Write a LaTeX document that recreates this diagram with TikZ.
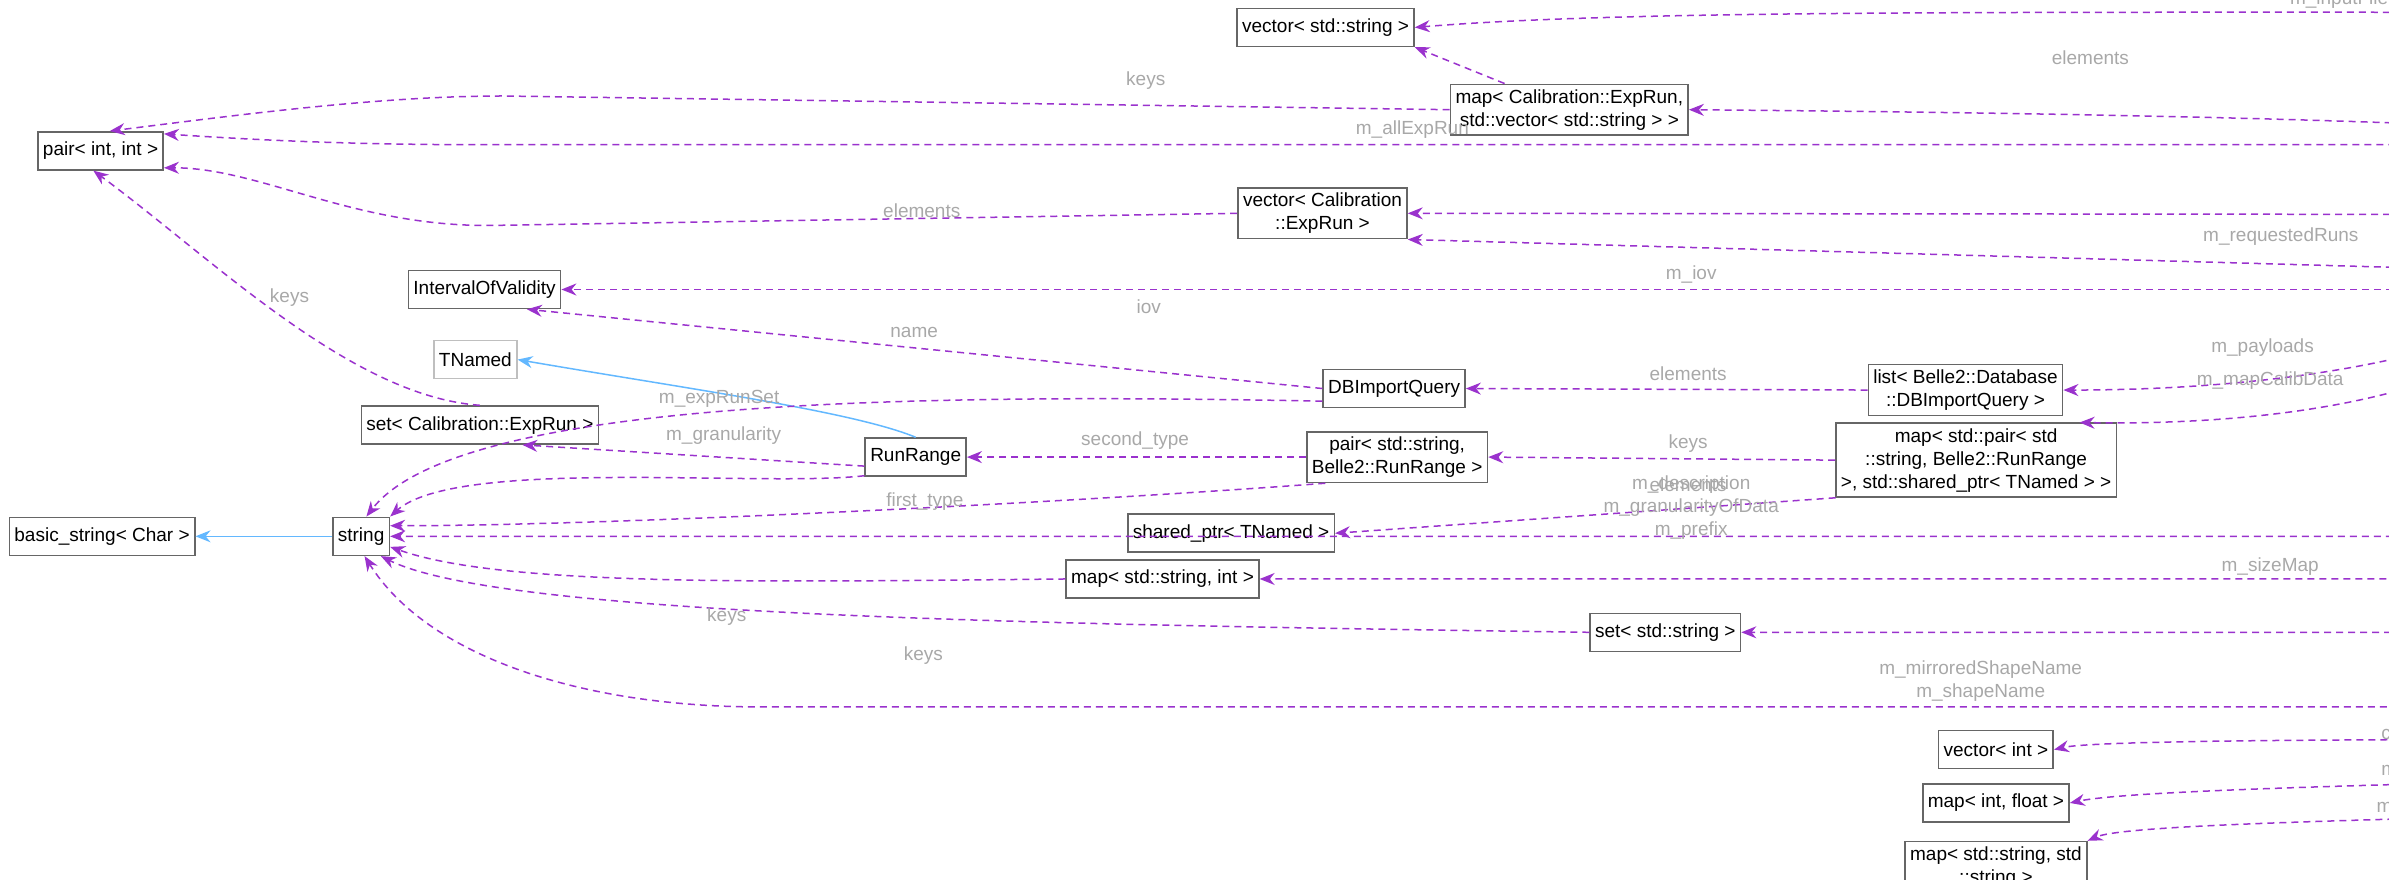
\documentclass[tikz,border=0pt]{standalone}
\usepackage{fontspec}
\setmainfont{Liberation Sans}
\usetikzlibrary{arrows.meta}
\definecolor{relcol}{HTML}{9A32CD}
\definecolor{inhcol}{HTML}{63B8FF}
\definecolor{lblcol}{HTML}{A8A8A8}

\begin{document}
\begin{tikzpicture}[x=1.5236pt,y=-1.5236pt,font=\fontsize{19}{23}\selectfont,
    box/.style={draw=black!60,line width=1.6pt,fill=white,inner sep=5pt,minimum height=38pt,align=center},
    rel/.style={draw=relcol,dashed,dash pattern=on 7pt off 5pt,line width=1.5pt,-{Stealth[length=15pt,width=12pt]}},
    inh/.style={draw=inhcol,line width=1.5pt,-{Stealth[length=15pt,width=12pt,open,fill=inhcol]}},
    lbl/.style={text=lblcol,inner sep=1pt,align=center}]
    % Frame of the picture:
    \useasboundingbox (0,0) rectangle (1568,577);

    % Classes:
    \node [box] (vecstr)  at (870,18)   {vector< std::string >};
    \node [box] (mapexp)  at (1030,72)  {map< Calibration::ExpRun,\\std::vector< std::string > >};
    \node [box] (pairii)  at (66,99)    {pair< int, int >};
    \node [box] (vecexp)  at (868,140)  {vector< Calibration\\::ExpRun >};
    \node [box] (calalg)  at (1920,141) {CalibrationAlgorithm};
    \node [box] (iov)     at (318,190)  {IntervalOfValidity};
    \node [box] (exec)    at (1670,190) {ExecutionData};
    \node [box,draw=black!25] (tnamed) at (312,236) {TNamed};
    \node [box] (setexp)  at (315,279)  {set< Calibration::ExpRun >};
    \node [box] (dbiq)    at (915,255)  {DBImportQuery};
    \node [box] (listdb)  at (1290,256) {list< Belle2::Database\\::DBImportQuery >};
    \node [box] (runrange) at (601,300) {RunRange};
    \node [box] (pairsr)  at (917,300)  {pair< std::string,\\Belle2::RunRange >};
    \node [box] (mappair) at (1297,302) {map< std::pair< std\\::string, Belle2::RunRange\\>, std::shared\_ptr< TNamed > >};
    \node [box] (shared)  at (808,350)  {shared\_ptr< TNamed >};
    \node [box] (basic)   at (67,352)   {basic\_string< Char >};
    \node [box] (string)  at (237,352)  {string};
    \node [box] (mapsi)   at (763,380)  {map< std::string, int >};
    \node [box] (setstr)  at (1093,415) {set< std::string >};
    \node [box,fill=black!40] (pxd) at (2285,464) {PXDClusterPositionCalibration\\Algorithm};
    \node [box] (vecint)  at (1310,492) {vector< int >};
    \node [box] (mapif)   at (1310,527) {map< int, float >};
    \node [box] (mapss)   at (1310,569) {map< std::string, std\\::string >};

    % Inheritance:
    \draw [inh] (pxd.110) -- (calalg.-60);
    \draw [inh] (runrange.north) .. controls (560,270) and (450,255) .. (tnamed.east);
    \draw [inh] (string) -- (basic);

    % Members:
    \draw [rel] (calalg.north) .. controls (1915,80) and (1760,8) .. (1550,8)
                .. controls (1250,8) and (1050,8) .. (vecstr.east);
    \draw [rel] (mapexp) -- (vecstr.south east);
    \draw [rel] (mapexp.west) -- (330,63) .. controls (250,63) and (160,75) .. (pairii.65);
    \draw [rel] (calalg.130) .. controls (1880,100) and (1820,78) .. (mapexp.east);
    \draw [rel] (calalg.160) .. controls (1820,115) and (1760,95) .. (1650,95) -- (320,95)
                .. controls (230,95) and (170,92) .. (pairii.15);
    \draw [rel] (vecexp.west) -- (320,148) .. controls (230,148) and (170,110) .. (pairii.-15);
    \draw [rel] (calalg.west) -- (vecexp.east);
    \draw [rel] (exec.north west) -- (vecexp.south east);
    \draw [rel] (calalg.-120) .. controls (1860,170) and (1760,170) .. (exec.north east);
    \draw [rel] (exec.west) -- (iov.east);
    \draw [rel] (dbiq.west) -- (iov.-25);
    \draw [rel] (dbiq.-170) .. controls (600,258) and (300,262) .. (string.75);
    \draw [rel] (listdb.west) -- (dbiq.east);
    \draw [rel] (exec.-120) .. controls (1620,230) and (1510,256) .. (listdb.east);
    \draw [rel] (exec.-100) .. controls (1640,250) and (1520,280) .. (mappair.20);
    \draw [rel] (setexp.north) .. controls (230,260) and (140,170) .. (pairii.-110);
    \draw [rel] (runrange.-170) -- (setexp.-25);
    \draw [rel] (runrange.-160) .. controls (500,320) and (300,300) .. (string.north east);
    \draw [rel] (pairsr.west) -- (runrange.east);
    \draw [rel] (pairsr.-160) .. controls (700,330) and (400,345) .. (string.20);
    \draw [rel] (mappair.west) -- (pairsr.east);
    \draw [rel] (mappair.-165) -- (shared.east);
    \draw [rel] (calalg.-100) .. controls (1890,260) and (1720,352) .. (1610,352) -- (string.east);
    \draw [rel] (mapsi.west) .. controls (500,382) and (330,385) .. (string.-20);
    \draw [rel] (setstr.west) .. controls (700,410) and (330,405) .. (string.-45);
    \draw [rel] (pxd.108) .. controls (2200,400) and (2120,380) .. (1980,380) -- (mapsi.east);
    \draw [rel] (pxd.118) .. controls (2200,430) and (2100,415) .. (1990,415) -- (setstr.east);
    \draw [rel] (pxd.west) -- (500,464) .. controls (380,464) and (280,430) .. (string.-80);
    \draw [rel] (pxd.-135) .. controls (2200,490) and (1400,480) .. (vecint.east);
    \draw [rel] (pxd.-118) .. controls (2210,510) and (1440,510) .. (mapif.east);
    \draw [rel] (pxd.-100) .. controls (2250,540) and (1420,530) .. (mapss.north east);

    % Labels:
    \node [lbl] (l01) at (1555,0)   {m\_inputFileNames};
    \node [lbl] (l02) at (1372,38)  {elements};
    \node [lbl] (l03) at (752,53)   {keys};
    \node [lbl] (l04) at (1755,70)  {m\_runsToInputFiles};
    \node [lbl] (l05) at (927,85)   {m\_allExpRun};
    \node [lbl] (l06) at (605,138)  {elements};
    \node [lbl] (l07) at (1663,133) {m\_boundaries};
    \node [lbl] (l08) at (1497,155) {m\_requestedRuns};
    \node [lbl] (l09) at (1750,155) {m\_data};
    \node [lbl] (l10) at (1110,180) {m\_iov};
    \node [lbl] (l11) at (754,201)  {iov};
    \node [lbl] (l12) at (600,218)  {name};
    \node [lbl] (l13) at (1108,245) {elements};
    \node [lbl] (l14) at (1485,228) {m\_payloads};
    \node [lbl] (l15) at (1490,250) {m\_mapCalibData};
    \node [lbl] (l16) at (190,195)  {keys};
    \node [lbl] (l17) at (472,262)  {m\_expRunSet};
    \node [lbl] (l18) at (475,286)  {m\_granularity};
    \node [lbl] (l19) at (745,289)  {second\_type};
    \node [lbl] (l20) at (607,329)  {first\_type};
    \node [lbl] (l21) at (1108,291) {keys};
    \node [lbl] (l22) at (1108,318) {elements};
    \node [lbl] (l23) at (1110,333) {m\_description\\m\_granularityOfData\\m\_prefix};
    \node [lbl] (l24) at (477,405)  {keys};
    \node [lbl] (l25) at (606,430)  {keys};
    \node [lbl] (l26) at (1490,372) {m\_sizeMap};
    \node [lbl] (l27) at (1660,408) {m\_shapeSet};
    \node [lbl] (l28) at (1300,447) {m\_mirroredShapeName\\m\_shapeName};
    \node [lbl] (l29) at (1597,481) {clusterKinds};
    \node [lbl] (l30) at (1597,506) {m\_pitchMap};
    \node [lbl] (l31) at (1597,530) {m\_mirrorMap};
\end{tikzpicture}
\end{document}
